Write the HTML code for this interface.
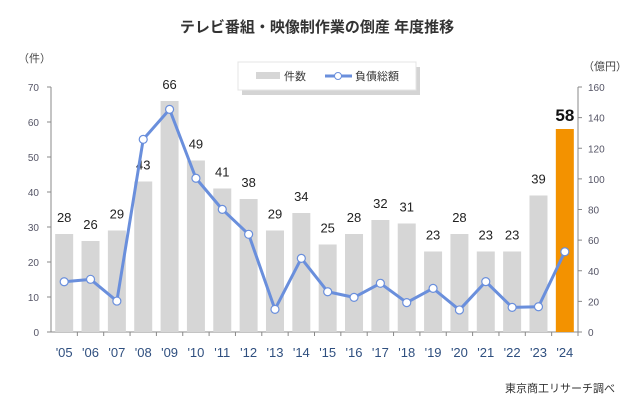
<!DOCTYPE html>
<html><head><meta charset="utf-8"><style>
body{margin:0;background:#fff;}
svg{font-family:"Liberation Sans","Noto Sans CJK JP",sans-serif;}
</style></head><body>
<svg id="c" width="635" height="409" viewBox="0 0 635 409">
<text x="317" y="32" text-anchor="middle" font-size="15" font-weight="bold" fill="#333">テレビ番組・映像制作業の倒産 年度推移</text>
<text x="18" y="62" font-size="11" fill="#444">（件）</text>
<text x="583" y="70" font-size="11" fill="#444">（億円）</text>
<g>
<rect x="240" y="64" width="178" height="28" fill="#555" opacity="0.25" transform="translate(2,3)"/>
<rect x="238" y="62" width="178" height="28" fill="#fff" stroke="#e4e4e4"/>
<rect x="256" y="72" width="24" height="7" fill="#d6d6d6"/>
<text x="284" y="80" font-size="11" fill="#333">件数</text>
<line x1="325" y1="76" x2="352" y2="76" stroke="#6a8fdc" stroke-width="3"/>
<circle cx="338" cy="76" r="3.5" fill="#fff" stroke="#6a8fdc"/>
<text x="355" y="80" font-size="11" fill="#333">負債総額</text>
</g>
<g id="g"></g>
<text x="615" y="392" text-anchor="end" font-size="11" fill="#333">東京商工リサーチ調べ</text>
</svg>
<script>
const years=["'05","'06","'07","'08","'09","'10","'11","'12","'13","'14","'15","'16","'17","'18","'19","'20","'21","'22","'23","'24"];
const counts=[28,26,29,43,66,49,41,38,29,34,25,28,32,31,23,28,23,23,39,58];
const debts=[32.8,34.4,20.2,125.8,145.4,100.4,80.1,63.8,14.8,48.1,26.3,22.6,31.8,19.2,28.5,14.4,32.9,16.1,16.5,52.4];
const leftTicks=[0,10,20,30,40,50,60,70];
const rightTicks=[0,20,40,60,80,100,120,140,160];
const NS="http://www.w3.org/2000/svg",g=document.getElementById('g');
const X0=51,X1=578,Y0=332,YT=87;
const slot=(X1-X0)/years.length;
const xc=i=>X0+slot*(i+0.5);
const yL=v=>Y0-v/70*(Y0-YT);
const yR=v=>Y0-v/160*(Y0-YT);
function mk(t,a){const e=document.createElementNS(NS,t);for(const k in a)e.setAttribute(k,a[k]);g.appendChild(e);return e;}
let e;
e=mk('line',{x1:X0,y1:YT,x2:X0,y2:Y0,stroke:'#888'});


e=mk('line',{x1:X1,y1:YT,x2:X1,y2:Y0,stroke:'#888'});


e=mk('line',{x1:X0,y1:Y0,x2:X1,y2:Y0,stroke:'#888'});


leftTicks.forEach(v=>{mk('line',{x1:X0-4,x2:X0,y1:yL(v),y2:yL(v),stroke:'#888'});
e=mk('text',{x:X0-12,y:yL(v)+4,'text-anchor':'end','font-size':10,fill:'#556'});e.textContent=v;

});
rightTicks.forEach(v=>{mk('line',{x1:X1,x2:X1+4,y1:yR(v),y2:yR(v),stroke:'#888'});
e=mk('text',{x:X1+10,y:yR(v)+4,'font-size':10,fill:'#556'});e.textContent=v;

});
years.forEach((y,i)=>{
 mk('line',{x1:X0+slot*(i+1),x2:X0+slot*(i+1),y1:Y0,y2:Y0+4,stroke:'#888'});
 const last=i===years.length-1;
 e=mk('rect',{x:xc(i)-9,y:yL(counts[i]),width:18,height:Y0-yL(counts[i]),fill:last?'#f39200':'#d6d6d6'});
 
 
 e=mk('text',{x:xc(i),y:yL(counts[i])-(last?8:12),'text-anchor':'middle','font-size':last?17:13,'font-weight':last?'bold':'normal',fill:last?'#111':'#222'});e.textContent=counts[i];
 
 
 e=mk('text',{x:xc(i),y:357,'text-anchor':'middle','font-size':13,fill:'#2f4f7f'});e.textContent=y;
 
 
});
e=mk('polyline',{points:debts.map((d,i)=>xc(i)+','+yR(d)).join(' '),fill:'none',stroke:'#6a8fdc','stroke-width':3,'stroke-linejoin':'round'});


debts.forEach((d,i)=>{e=mk('circle',{cx:xc(i),cy:yR(d),r:4,fill:'#fff',stroke:'#6a8fdc','stroke-width':1.2});

});
</script>
</body></html>
